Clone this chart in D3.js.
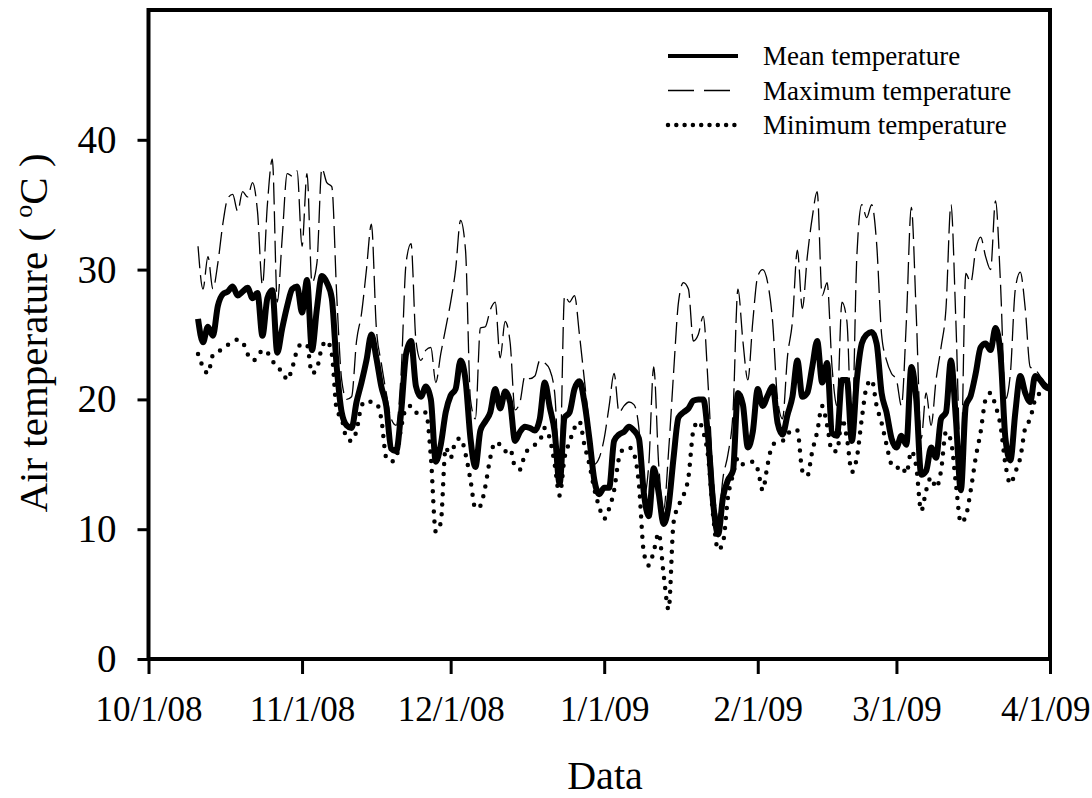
<!DOCTYPE html>
<html>
<head>
<meta charset="utf-8">
<script src="https://cdn.jsdelivr.net/npm/d3@7"></script>
<style>
  body { margin: 0; background: #fff; }
  svg { display: block; font-family: "Liberation Serif", "Times New Roman", serif; }
</style>
</head>
<body>
<svg id="chart"></svg>
<script>
// daily readings, first day 10/11/08, last day 4/1/09
var firstDay = new Date(2008, 9, 11);

var meanTemp = [
  26.2, 24.4, 25.6, 24.9, 27.2, 28.1, 28.3, 28.7, 28.0, 28.3,
  28.6, 27.8, 28.2, 24.9, 27.8, 28.4, 23.6, 25.5, 27.2, 28.5,
  28.7, 26.7, 29.2, 23.8, 27.0, 29.5, 29.0, 27.8, 22.5, 19.0,
  18.0, 17.8, 19.8, 21.3, 23.0, 25.0, 23.2, 21.0, 19.5, 16.2,
  16.0, 19.0, 23.5, 24.5, 21.0, 20.2, 21.0, 20.0, 15.2, 16.5,
  19.0, 20.3, 20.8, 23.0, 21.5, 17.0, 14.8, 17.6, 18.3, 19.0,
  20.8, 19.3, 20.6, 19.8, 16.8, 17.5, 17.9, 17.8, 17.6, 18.5,
  21.3, 19.4, 17.5, 13.5, 18.6, 19.0, 20.8, 21.4, 19.8, 17.0,
  13.8, 12.7, 13.2, 13.2, 16.8, 17.3, 17.5, 17.9, 17.6, 17.0,
  12.8, 11.0, 14.7, 12.8, 10.4, 11.8, 15.5, 18.6, 19.0, 19.3,
  19.9, 20.0, 20.0, 17.0, 12.0, 9.6, 12.5, 13.8, 14.5, 20.5,
  19.6, 16.3, 17.5, 20.8, 19.5, 20.3, 21.0, 18.2, 17.3, 18.8,
  20.2, 23.0, 20.2, 20.5, 22.5, 24.5, 21.3, 22.8, 17.4, 17.2,
  21.5, 21.5, 16.8, 21.5, 24.3, 25.0, 25.2, 24.3, 20.5, 19.0,
  17.0, 16.3, 17.2, 16.5, 22.5, 20.0, 14.2, 14.5, 16.3, 15.5,
  18.5, 19.0, 23.0, 18.5, 13.0, 19.5, 20.3, 22.0, 24.0, 24.3,
  23.8, 25.5, 23.5, 17.0, 15.3, 19.0, 21.8, 20.5, 19.8, 21.8,
  21.5, 21.0, 20.8
];

var maxTemp = [
  31.8, 28.5, 31.0, 28.5, 30.5, 33.5, 35.5, 35.8, 34.5, 36.0,
  35.6, 36.7, 34.5, 28.8, 35.0, 38.5, 27.5, 32.5, 37.4, 37.2,
  37.6, 31.8, 37.4, 29.0, 30.5, 37.8, 36.7, 36.4, 28.0, 21.5,
  20.0, 20.2, 24.5, 26.6, 30.0, 33.5, 25.5, 22.8, 20.5, 18.5,
  18.0, 22.0, 30.5, 32.0, 24.5, 23.0, 23.8, 24.0, 21.3, 23.5,
  25.5, 27.5, 30.0, 33.8, 31.5, 20.0, 18.5, 25.5, 25.6, 26.9,
  27.5, 23.2, 26.0, 24.4, 19.2, 19.8, 21.8, 21.6, 21.8, 23.0,
  22.8, 22.3, 20.5, 14.5, 28.0, 27.5, 28.0, 25.0, 21.5, 18.0,
  15.0, 15.5, 17.0, 19.5, 22.0, 19.0, 19.5, 19.8, 19.6, 17.8,
  12.5, 15.0, 22.5, 15.0, 11.5, 16.0, 22.0, 27.5, 29.0, 28.5,
  24.5, 25.0, 26.4, 21.0, 14.0, 10.8, 14.0, 15.8, 19.0, 28.5,
  24.5, 21.5, 26.0, 29.5, 30.0, 29.0, 26.0, 20.0, 18.5, 23.3,
  26.0, 31.5, 27.0, 31.0, 34.0, 36.0, 28.0, 29.0, 22.5, 19.5,
  27.5, 26.0, 17.5, 31.0, 35.0, 34.0, 35.0, 32.0, 25.0, 23.0,
  22.0, 21.5, 19.5, 26.0, 34.8, 26.5, 17.0, 20.5, 18.0, 21.5,
  24.0, 27.0, 35.0, 26.0, 15.0, 29.7, 29.0, 31.5, 32.5, 31.0,
  30.0, 35.3, 29.0, 20.0, 22.0, 28.5, 29.8, 27.0, 22.5, 22.3,
  21.8, 21.3, 21.0
];

var minTemp = [
  23.5, 22.5, 22.0, 23.4, 23.6, 24.0, 24.2, 24.5, 24.6, 24.4,
  23.5, 23.0, 23.2, 23.8, 23.6, 23.0, 22.4, 22.2, 21.5, 22.4,
  23.8, 24.3, 24.2, 22.0, 22.4, 24.0, 24.5, 23.5, 19.2, 18.5,
  17.0, 16.8, 17.6, 19.5, 19.9, 19.8, 19.7, 18.5, 15.5, 15.2,
  15.5, 17.8, 19.3, 19.5, 19.0, 18.8, 19.0, 15.6, 9.8, 10.5,
  16.3, 15.5, 16.8, 17.0, 15.8, 13.8, 11.6, 11.8, 13.3, 15.5,
  16.7, 16.5, 16.0, 16.2, 14.8, 14.6, 15.8, 16.2, 16.5, 16.8,
  17.8, 17.0, 15.0, 12.6, 15.5, 16.7, 17.8, 18.3, 16.5, 15.0,
  13.1, 11.7, 10.8, 11.6, 13.0, 15.5, 16.2, 16.3, 15.8, 13.5,
  8.2, 7.2, 8.3, 9.7, 6.5, 3.8, 10.5, 11.8, 12.6, 14.0,
  17.6, 18.3, 17.5, 15.5, 11.0, 8.4, 9.0, 12.5, 14.2, 15.5,
  15.0, 15.0, 15.2, 14.6, 13.0, 15.0, 16.5, 16.7, 16.8, 17.3,
  17.7, 17.6, 14.5, 14.1, 16.0, 17.5, 19.5, 18.0, 16.0, 16.0,
  18.5, 17.0, 14.4, 15.5, 18.5, 21.0, 21.5, 19.5, 18.2, 16.5,
  15.0, 14.7, 14.9, 14.3, 16.0, 14.8, 11.4, 13.0, 14.0, 13.2,
  14.5, 17.5, 16.8, 13.5, 10.5, 11.0, 13.0, 15.5, 17.5, 20.0,
  20.5, 19.5, 18.0, 15.0, 13.5, 14.4, 15.5, 17.8, 18.5, 20.0,
  20.5, 20.8, 21.0
];

var seriesNames = ['Mean temperature', 'Maximum temperature', 'Minimum temperature'];
var yTicks = [0, 10, 20, 30, 40];
var xTicks = ['2008-10-01', '2008-11-01', '2008-12-01', '2009-01-01', '2009-02-01', '2009-03-01', '2009-04-01'];

document.addEventListener('DOMContentLoaded', () => {
  var render = (selector, size) => {
    var margin = size.margin;
    var width = size.width - margin.left - margin.right;
    var height = size.height - margin.top - margin.bottom;
    var parse = d3.timeParse('%Y-%m-%d');
    var tickDates = xTicks.map(parse);

    var x = d3.scaleTime()
      .domain([tickDates[0], tickDates[tickDates.length - 1]])
      .range([0, width]);

    var y = d3.scaleLinear()
      .domain([0, 50])
      .range([height, 0]);

    var svg = d3.select(selector)
      .attr('width', size.width)
      .attr('height', size.height);

    var chart = svg.append('g')
      .attr('transform', `translate(${ margin.left }, ${ margin.top })`);

    var day = i => d3.timeDay.offset(firstDay, i);

    var line = d3.line()
      .x((d, i) => x(day(i)))
      .y(d => y(d))
      .curve(d3.curveMonotoneX);

    chart.append('path')
      .datum(maxTemp)
      .attr('d', line)
      .attr('fill', 'none')
      .attr('stroke', '#000')
      .attr('stroke-width', 1.3)
      .attr('stroke-dasharray', '22,7');

    chart.append('path')
      .datum(minTemp)
      .attr('d', line)
      .attr('fill', 'none')
      .attr('stroke', '#000')
      .attr('stroke-width', 4.5)
      .attr('stroke-linecap', 'round')
      .attr('stroke-dasharray', '0,10');

    chart.append('path')
      .datum(meanTemp)
      .attr('d', line)
      .attr('fill', 'none')
      .attr('stroke', '#000')
      .attr('stroke-width', 6)
      .attr('stroke-linejoin', 'round');

    // frame
    chart.append('rect')
      .attr('width', width)
      .attr('height', height)
      .attr('fill', 'none')
      .attr('stroke', '#000')
      .attr('stroke-width', 4);

    var xAxis = d3.axisBottom(x)
      .tickValues(tickDates)
      .tickFormat(d3.timeFormat('%-m/%-d/%y'))
      .tickSize(15)
      .tickPadding(22);

    var yAxis = d3.axisLeft(y)
      .tickValues(yTicks)
      .tickSize(11)
      .tickPadding(21);

    var gx = chart.append('g')
      .attr('transform', `translate(0, ${ height })`)
      .call(xAxis);

    var gy = chart.append('g')
      .call(yAxis);

    [gx, gy].forEach(g => {
      g.select('.domain').remove();
      g.selectAll('.tick line').attr('stroke', '#000').attr('stroke-width', 3);
      g.selectAll('.tick text')
        .attr('fill', '#000')
        .style('font-family', '"Liberation Serif", "Times New Roman", serif');
    });
    gx.selectAll('.tick text').style('font-size', '35px');
    gy.selectAll('.tick text').style('font-size', '39px');

    // the last date label sits inside the page edge
    gx.selectAll('.tick text')
      .filter((d, i) => i === tickDates.length - 1)
      .attr('text-anchor', 'end')
      .attr('x', size.width - 2 - margin.left - width);

    svg.append('text')
      .attr('x', 605)
      .attr('y', 789)
      .attr('text-anchor', 'middle')
      .style('font-size', '40px')
      .text('Data');

    var yt = svg.append('text')
      .attr('transform', 'translate(47, 333) rotate(-90)')
      .attr('text-anchor', 'middle')
      .style('font-size', '41px');
    yt.append('tspan').text('Air temperature ( ');
    yt.append('tspan').text('o').style('font-size', '26px').attr('dy', -15);
    yt.append('tspan').text('C )').attr('dy', 15);

    // legend
    var legend = svg.append('g');
    var styles = [
      { width: 4, dash: null, cap: 'butt' },
      { width: 1.3, dash: '26,10', cap: 'butt' },
      { width: 4.5, dash: '0,8.3', cap: 'round' }
    ];
    seriesNames.forEach((name, i) => {
      var ly = 56 + i * 34.5;
      legend.append('line')
        .attr('x1', 668).attr('x2', 738)
        .attr('y1', ly).attr('y2', ly)
        .attr('stroke', '#000')
        .attr('stroke-width', styles[i].width)
        .attr('stroke-linecap', styles[i].cap)
        .attr('stroke-dasharray', styles[i].dash);
      legend.append('text')
        .attr('x', 763)
        .attr('y', ly + 9)
        .style('font-size', '27px')
        .text(name);
    });
  };

  render('#chart', {
    width: 1092,
    height: 798,
    margin: { top: 10, right: 42, bottom: 139, left: 148.5 }
  });
});
</script>
</body>
</html>
